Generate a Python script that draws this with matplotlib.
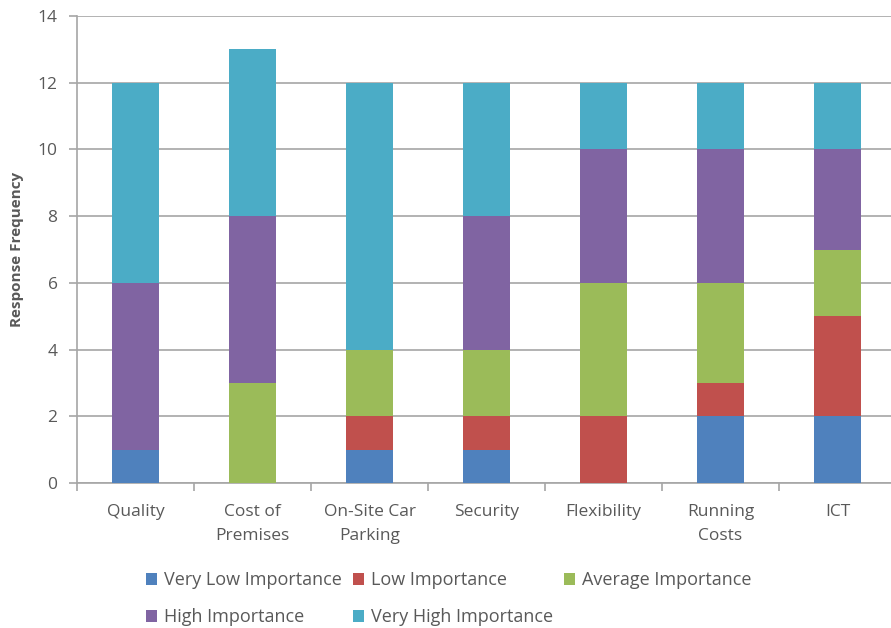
import matplotlib
matplotlib.use("Agg")
import numpy as np
import matplotlib.pyplot as plt

categories = ['Quality', 'Cost of\nPremises', 'On-Site Car\nParking', 'Security',
              'Flexibility', 'Running\nCosts', 'ICT']
series = ['Very Low Importance', 'Low Importance', 'Average Importance',
          'High Importance', 'Very High Importance']
very_low = [1, 0, 1, 1, 0, 2, 2]
low = [0, 0, 1, 1, 2, 1, 3]
average = [0, 3, 2, 2, 4, 3, 2]
high = [5, 5, 0, 4, 4, 4, 3]
very_high = [6, 5, 8, 4, 2, 2, 2]
colors = ['#4F81BD', '#C0504D', '#9BBB59', '#8064A2', '#4BACC6']

plt.rcParams['font.family'] = ['Open Sans', 'DejaVu Sans']
txt = '#595959'
grid_c = '#A6A6A6'

fig = plt.figure(figsize=(8.91, 6.28), dpi=100)
ax = fig.add_axes([77 / 891, 1 - 483 / 628, 819 / 891, 467 / 628])

x = np.arange(len(categories))
bottom = np.zeros(len(categories))
handles = []
for name, vals, c in zip(series, [very_low, low, average, high, very_high], colors):
    h = ax.bar(x, vals, 0.4, bottom=bottom, color=c, label=name, zorder=3)
    handles.append(h)
    bottom += np.array(vals)

ax.set_xlim(-0.5, len(categories) - 0.5)
ax.set_ylim(0, 14)
ax.set_yticks(range(0, 15, 2))
ax.yaxis.grid(True, color=grid_c, lw=1.2, zorder=0)
ax.set_xticks(x)
ax.set_xticklabels(categories, fontsize=12.5, color=txt, linespacing=1.7)
ax.set_xticks(np.arange(-0.5, len(categories)), minor=True)
ax.tick_params(axis='x', which='major', length=0, pad=15)
ax.tick_params(axis='x', which='minor', length=6, color=grid_c, width=1.2)
ax.tick_params(axis='y', length=6, color=grid_c, width=1.2, labelsize=12.5,
               labelcolor=txt, pad=8)
for s in ['top', 'right']:
    ax.spines[s].set_visible(False)
for s in ['left', 'bottom']:
    ax.spines[s].set_color(grid_c)
    ax.spines[s].set_linewidth(1.2)
ax.set_ylabel('Response Frequency', fontsize=11, fontweight='bold', color=txt, labelpad=10)

order = [0, 3, 1, 4, 2]
fig.legend([handles[i] for i in order], [series[i] for i in order],
           loc='upper left', bbox_to_anchor=(130 / 891, 1 - 555 / 628), ncol=3,
           frameon=False, fontsize=13, labelcolor=txt, handlelength=0.6,
           handleheight=0.6, handletextpad=0.4, columnspacing=0.6, labelspacing=1.05)

fig.savefig('out.png', dpi=100)
